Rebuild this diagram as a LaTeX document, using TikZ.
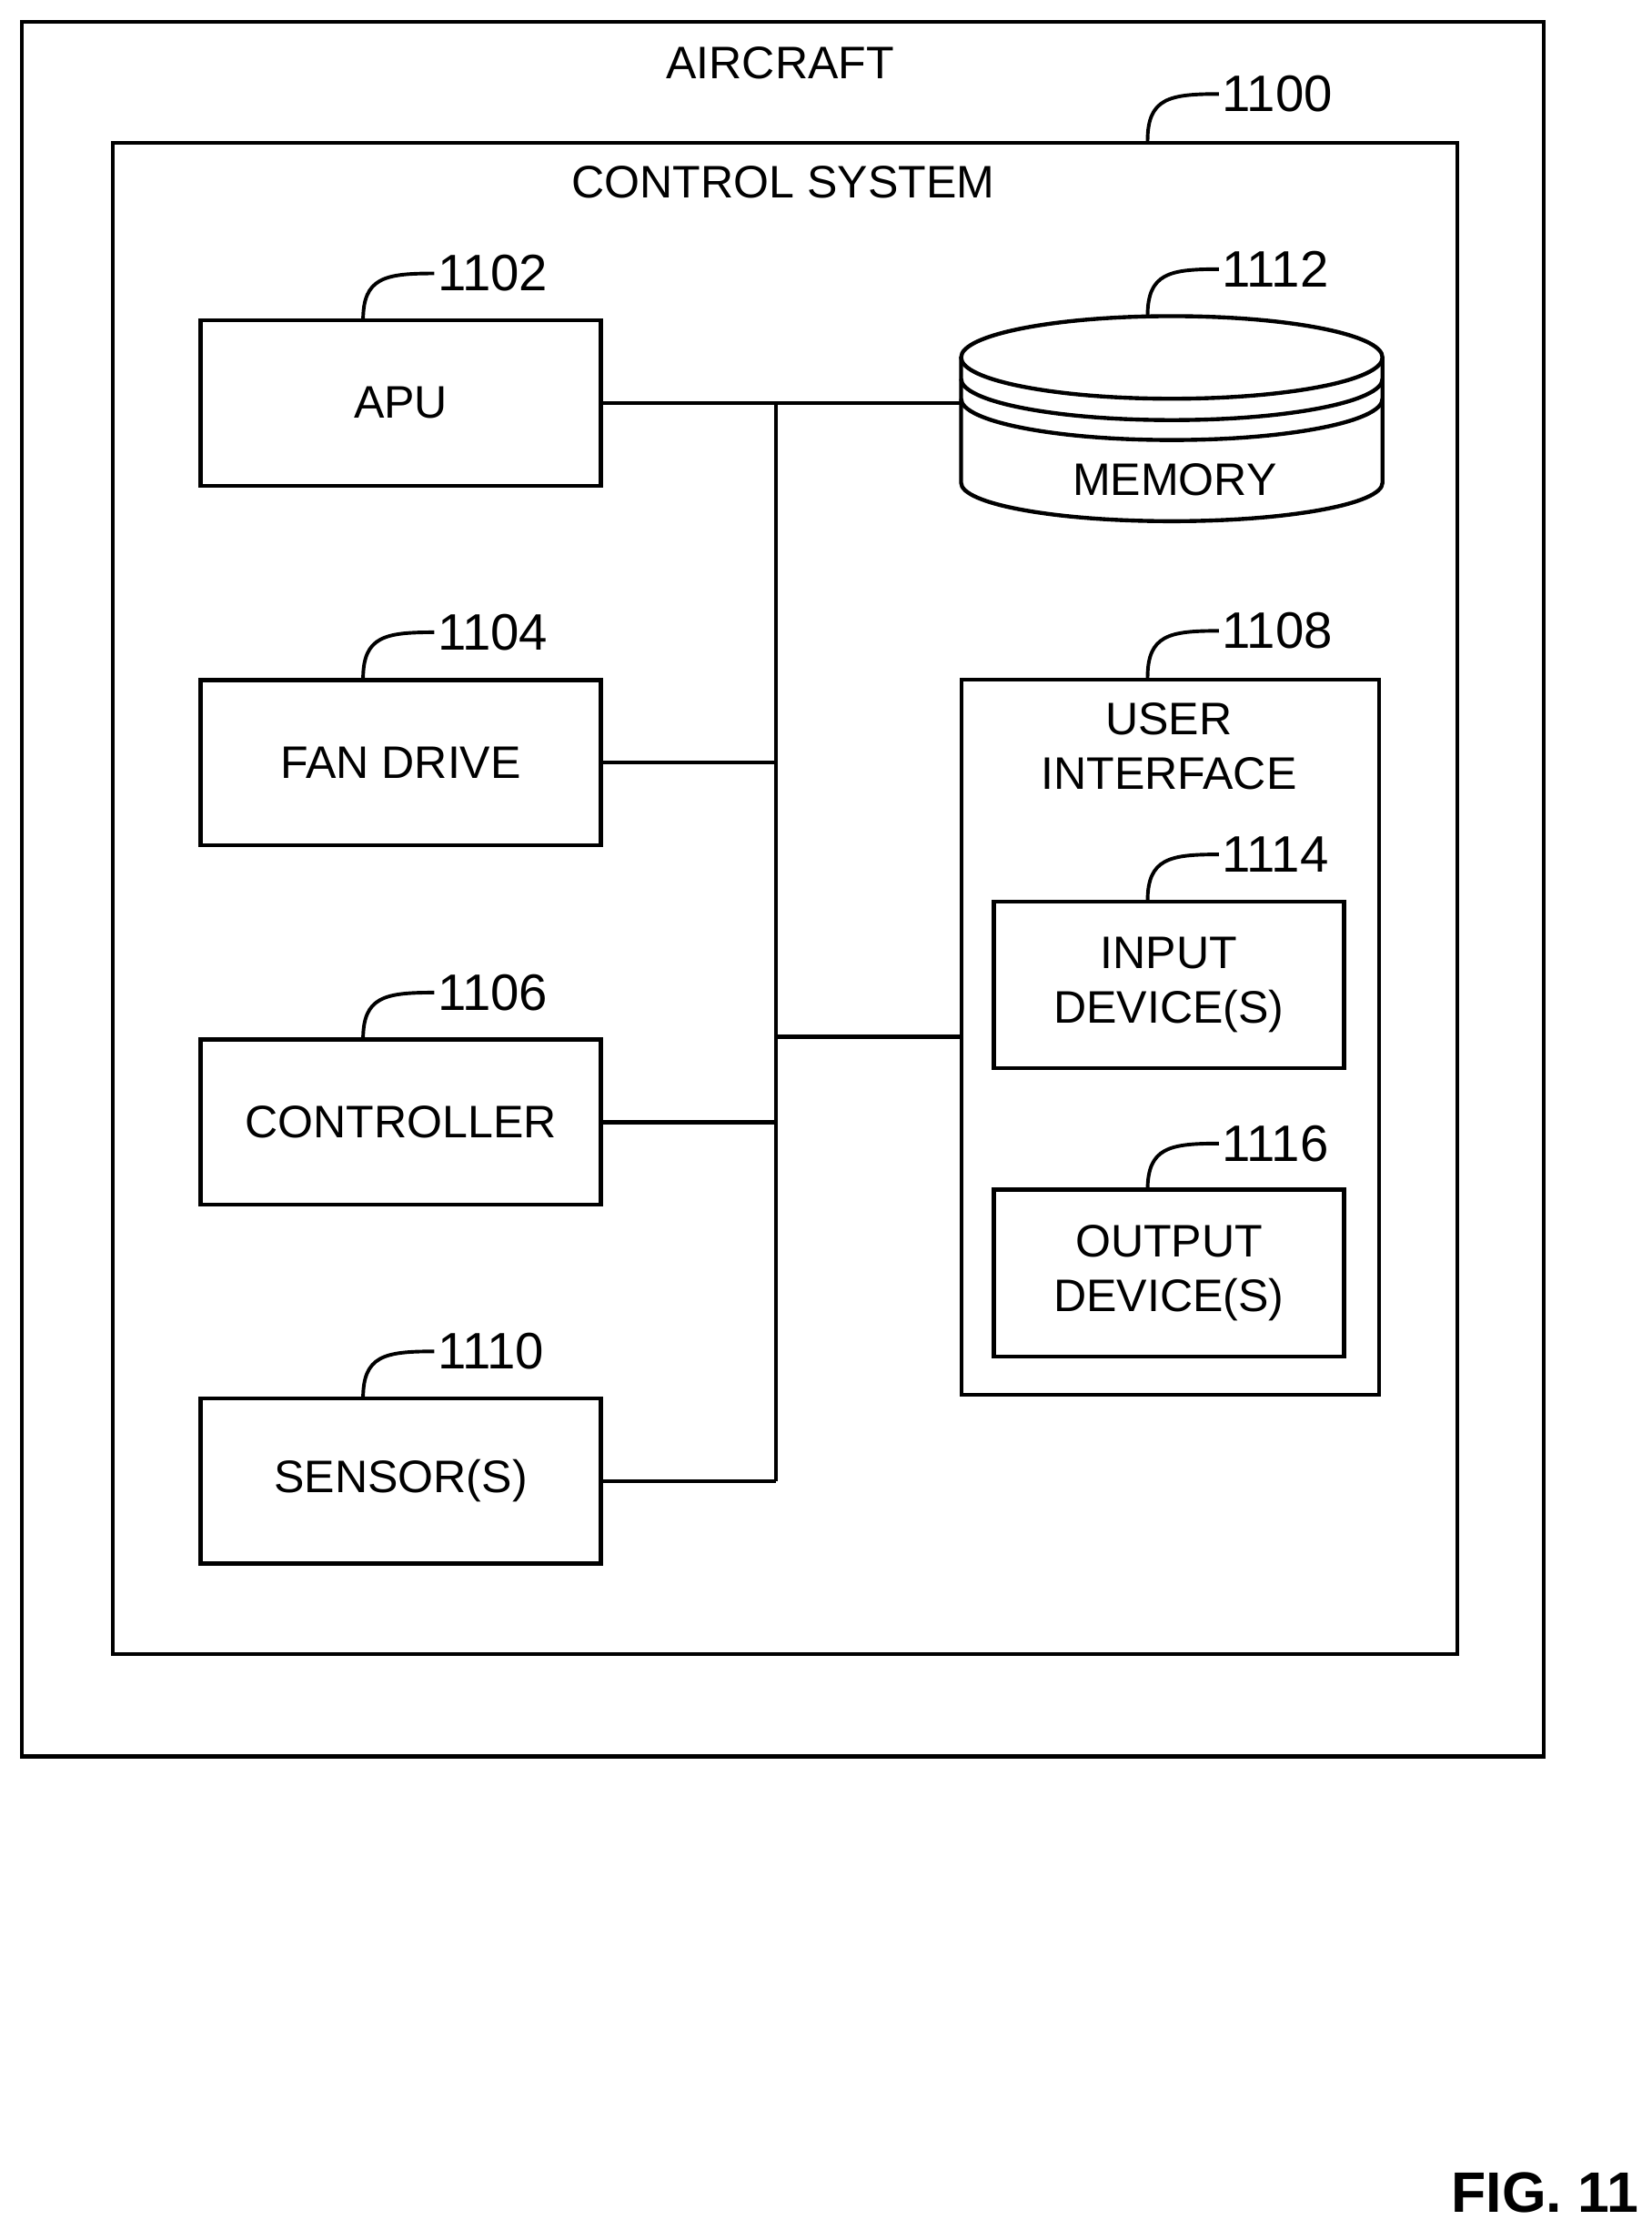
\documentclass[tikz,border=0pt]{standalone}
\usepackage{fontspec}
\setmainfont{Liberation Sans}
\usetikzlibrary{calc}
\begin{document}
\begin{tikzpicture}[x=1pt,y=-1pt,line width=2.8pt,
  box/.style={draw,rectangle,minimum width=281pt,minimum height=116pt,align=center,font=\fontsize{32}{38}\selectfont},
  sub/.style={draw,rectangle,minimum width=246pt,minimum height=117pt,align=center,font=\fontsize{32}{38}\selectfont},
  lbl/.style={font=\fontsize{36}{40}\selectfont,anchor=west,inner sep=1pt},
  txt/.style={font=\fontsize{32}{38}\selectfont}]
\useasboundingbox (0,0) rectangle (1160,1566);
\node[draw,minimum width=1069pt,minimum height=1218pt,anchor=north west,inner sep=0] (air) at (14,14) {};
\node[txt] (airt) at (548,44) {AIRCRAFT};
\node[draw,minimum width=944pt,minimum height=1061pt,anchor=north west,inner sep=0] (cs) at (78,99) {};
\node[txt] (cst) at (550,128) {CONTROL SYSTEM};
\newcommand{\myleader}[4]{\coordinate (#3s) at (#1,#2);\coordinate (#3e) at ($(#1,#2)+(50,-33)$);
  \draw[line width=2.5pt] (#3s) .. controls ($(#3s)+(0,-30)$) and ($(#3s)+(15,-33)$) .. (#3e);
  \node[lbl] (#3l) at (#3e) {#4};}
\node[box] (apu) at (281.5,283) {APU};
\node[box] (fan) at (281.5,535.5) {FAN DRIVE};
\node[box] (ctl) at (281.5,788) {CONTROLLER};
\node[box] (sen) at (281.5,1040) {SENSOR(S)};
\node[draw,minimum width=293pt,minimum height=502pt,anchor=north west,inner sep=0] (ui) at (674,476) {};
\node[txt,align=center] (uit) at (821,524) {USER\\INTERFACE};
\node[sub] (inp) at (821,691.5) {INPUT\\DEVICE(S)};
\node[sub] (out) at (821,894) {OUTPUT\\DEVICE(S)};
% memory cylinder
\coordinate (mem) at (675,283);
\draw[fill=white] (675,251) -- (675,339) arc[start angle=180,end angle=0,x radius=148,y radius=27] -- (971,251);
\draw (823,251) ellipse[x radius=148,y radius=29];
\draw (675,266) arc[start angle=180,end angle=0,x radius=148,y radius=29];
\draw (675,280) arc[start angle=180,end angle=0,x radius=148,y radius=29];
\node[txt] (memt) at (825,337) {MEMORY};
% bus
\coordinate (b1) at (545,283);
\coordinate (b4) at (545,1040);
\coordinate (bui) at (545,728);
\draw (apu.east) -- (mem);
\draw (b1) -- (b4);
\draw (fan.east) -- (545,535.5);
\draw (ctl.east) -- (545,788);
\draw (sen.east) -- (b4);
\draw (bui) -- (ui.west |- bui);
% leaders
\myleader{806}{99}{r1100}{1100}
\myleader{255}{225}{r1102}{1102}
\myleader{255}{477}{r1104}{1104}
\myleader{255}{730}{r1106}{1106}
\myleader{255}{982}{r1110}{1110}
\myleader{806}{222}{r1112}{1112}
\myleader{806}{476}{r1108}{1108}
\myleader{806}{633}{r1114}{1114}
\myleader{806}{836}{r1116}{1116}
\node[font=\bfseries\fontsize{40}{46}\selectfont] (fig) at (1085,1540) {FIG. 11};
\end{tikzpicture}
\end{document}
